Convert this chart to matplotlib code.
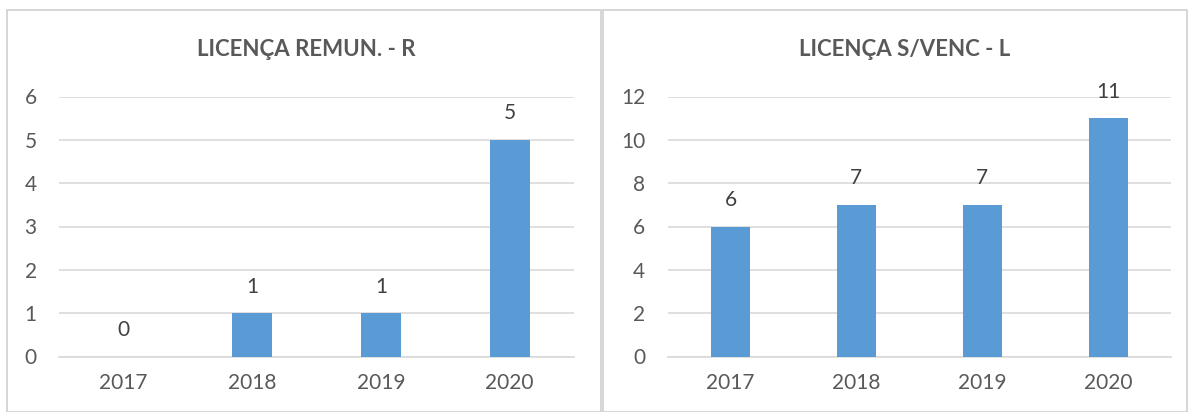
import matplotlib.pyplot as plt
from matplotlib.patches import Rectangle

anos = ['2017', '2018', '2019', '2020']
remun = [0, 1, 1, 5]
svenc = [6, 7, 7, 11]

titulos = ['LICENÇA REMUN. - R', 'LICENÇA S/VENC - L']
ylims = [(0, 6), (0, 12)]
passos = [1, 2]

azul = '#5B9BD5'
cinza_txt = '#595959'
grade = '#D9D9D9'

plt.rcParams['font.family'] = ['Lato', 'DejaVu Sans']

fig = plt.figure(figsize=(11.88, 4.12), dpi=100)

# molduras dos dois painéis
W, H = 1188, 412
for x0, x1 in [(7, 601), (603, 1187)]:
    fig.patches.append(Rectangle((x0 / W, 0), (x1 - x0) / W, (412 - 10) / H,
                                 transform=fig.transFigure, fill=False,
                                 edgecolor='#D0D0D0', lw=1.2))

y0 = 1 - 356.5 / H
alt = (356.5 - 96.5) / H
posicoes = [[59 / W, y0, (574 - 59) / W, alt],
            [667.5 / W, y0, (1171 - 667.5) / W, alt]]
dados = [remun, svenc]
titulo_x = [306 / W, 905 / W]

for i in range(2):
    ax = fig.add_axes(posicoes[i])
    x = range(len(anos))
    bars = ax.bar(x, dados[i], width=0.31, color=azul, zorder=3)
    ax.set_xlim(-0.5, 3.5)
    ax.set_ylim(*ylims[i])
    ax.set_yticks(range(ylims[i][0], ylims[i][1] + 1, passos[i]))
    ax.set_xticks(list(x))
    ax.set_xticklabels(anos)
    ax.grid(axis='y', color=grade, lw=1.2, zorder=0)
    for s in ['top', 'right', 'left']:
        ax.spines[s].set_visible(False)
    ax.spines['bottom'].set_color(grade)
    ax.spines['bottom'].set_linewidth(1.2)
    ax.tick_params(length=0, labelsize=15, colors=cinza_txt)
    ax.tick_params(axis='x', pad=12)
    ax.tick_params(axis='y', pad=16)
    for b, v in zip(bars, dados[i]):
        ax.annotate(str(v), (b.get_x() + b.get_width() / 2, v),
                    xytext=(0, 19), textcoords='offset points',
                    ha='center', va='center', fontsize=15, color='#404040')
    fig.text(titulo_x[i], 1 - 50 / H, titulos[i], ha='center', va='center',
             fontsize=16, fontweight='bold', color=cinza_txt)

fig.savefig('out.png', dpi=100, facecolor='white')
